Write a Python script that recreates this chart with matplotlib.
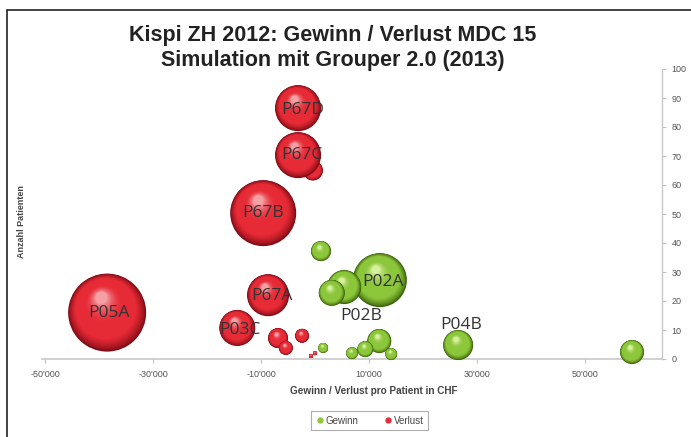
import matplotlib
matplotlib.use("Agg")
import matplotlib.pyplot as plt
import numpy as np
from matplotlib.colors import to_rgb
from matplotlib.ticker import FuncFormatter
from matplotlib.patches import Rectangle
from matplotlib.lines import Line2D

# ---------------- data ----------------
verlust_x = [-38500, -9600, -3150, -400, -3150, -8700, -14400, -6850, -5400, -2400, -750, 0]
verlust_y = [16, 50.3, 86.5, 65, 70.3, 22, 10.7, 7.2, 3.8, 8, 1, 2]
verlust_size = [1521, 1089, 529, 100, 529, 441, 324, 100, 49, 49, 4, 4]
verlust_labels = ["P05A", "P67B", "P67D", "", "P67C", "P67A", "P03C", "", "", "", "", ""]

gewinn_x = [12000, 5400, 3100, 26500, 1100, 11900, 58700, 9300, 6850, 14100, 1500]
gewinn_y = [27.2, 24.8, 22.8, 4.8, 37.2, 6.2, 2.4, 3.4, 2.0, 1.7, 3.8]
gewinn_size = [729, 289, 169, 225, 100, 144, 144, 64, 36, 36, 25]
gewinn_labels = ["P02A", "P02B", "", "P04B", "", "", "", "", "", "", ""]

# label offsets in pixels (dx, dy) relative to bubble centre
label_offsets = {"P05A": (2, 0), "P67B": (0, 0), "P67D": (5, -2), "P67C": (4, 0),
                 "P67A": (4, -1), "P03C": (3, -2), "P02A": (3, -2), "P02B": (17, -29),
                 "P04B": (3, 20)}

x_ticks = [-50000, -30000, -10000, 10000, 30000, 50000]
y_ticks = list(range(0, 101, 10))

title = "Kispi ZH 2012: Gewinn / Verlust MDC 15\nSimulation mit Grouper 2.0 (2013)"
xlabel = "Gewinn / Verlust pro Patient in CHF"
ylabel = "Anzahl Patienten"

# ---------------- figure ----------------
W, H, DPI = 691, 437, 100
fig = plt.figure(figsize=(W / DPI, H / DPI), dpi=DPI)
fig.patch.set_facecolor("white")

# outer frame of the original chart
fig.patches.append(Rectangle((7 / W, -0.05), 1.1, 1 - 10 / H + 0.05, transform=fig.transFigure,
                             fill=False, edgecolor="#222222", linewidth=1.2))

ax_left, ax_right, ax_top, ax_bottom = 41.8, 662, 69, 359
ax = fig.add_axes([ax_left / W, 1 - ax_bottom / H, (ax_right - ax_left) / W, (ax_bottom - ax_top) / H])
ax.set_xlim(-50600, 64250)
ax.set_ylim(0, 100)
ax.set_facecolor("none")

for s in ["left", "top"]:
    ax.spines[s].set_visible(False)
ax.spines["bottom"].set_color("#c8c8c8")
ax.spines["right"].set_color("#c8c8c8")
ax.spines["bottom"].set_linewidth(1.2)
ax.spines["right"].set_linewidth(1.0)

ax.yaxis.tick_right()
ax.set_yticks(y_ticks)
ax.set_xticks(x_ticks)
ax.xaxis.set_major_formatter(FuncFormatter(lambda v, p: f"{int(v):,}".replace(",", "'")))
ax.tick_params(axis="both", colors="#c0c0c0", labelcolor="#555555", labelsize=6.5, length=3, width=0.8)
ax.tick_params(axis="x", pad=5)
ax.tick_params(axis="y", pad=4)
for lab in ax.get_xticklabels() + ax.get_yticklabels():
    lab.set_family("Liberation Sans")

px_to_pt = 72 / DPI


def draw_bubbles(xs, ys, sizes, base, dark, light, z0):
    base = np.array(to_rgb(base))
    dark = np.array(to_rgb(dark))
    light = np.array(to_rgb(light))
    n = 40
    for rank in range(len(xs)):
        r_px = np.sqrt(sizes[rank])
        cx, cy = ax.transData.transform((xs[rank], ys[rank]))
        for k in range(n):
            t = k / (n - 1)
            f = 1 - 0.85 * t
            off = (1 - f) * 0.5 * r_px
            dx, dy = -off * 0.35, off * 0.9
            if t < 0.25:
                col = dark + (base - dark) * (t / 0.25) ** 0.7
            elif t < 0.55:
                col = base
            else:
                col = base + (light - base) * ((t - 0.55) / 0.45) ** 2.2
            px, py = ax.transData.inverted().transform((cx + dx, cy + dy))
            d_pt = 2 * r_px * f * px_to_pt
            ax.scatter([px], [py], s=d_pt ** 2, color=col, edgecolors="none",
                       zorder=z0 + rank * 0.01 + k * 0.0001, clip_on=False)


draw_bubbles(verlust_x, verlust_y, verlust_size, "#e62a36", "#7a0a14", "#f4a0a4", 2)
draw_bubbles(gewinn_x, gewinn_y, gewinn_size, "#8cc63a", "#355c06", "#d6f09c", 3)

# labels
for xs, ys, labs in [(verlust_x, verlust_y, verlust_labels), (gewinn_x, gewinn_y, gewinn_labels)]:
    for x, y, lab in zip(xs, ys, labs):
        if not lab:
            continue
        dx, dy = label_offsets.get(lab, (0, 0))
        ax.annotate(lab, (x, y), xytext=(dx * px_to_pt, dy * px_to_pt), textcoords="offset points",
                    ha="center", va="center", fontsize=12.5, color="#333333",
                    family="Open Sans", zorder=10)

# titles
fig.text(333 / W, 1 - 48 / H, title, ha="center", va="center", fontsize=15.5,
         fontweight="bold", family="Liberation Sans", color="#222222", linespacing=1.25)
fig.text(374 / W, 1 - 391 / H, xlabel, ha="center", va="center", fontsize=7.2,
         fontweight="bold", family="Liberation Sans", color="#444444")
fig.text(22 / W, 1 - 222 / H, ylabel, ha="center", va="center", fontsize=6.5, rotation=90,
         fontweight="bold", family="Liberation Sans", color="#444444")

# legend
handles = [Line2D([], [], marker="o", linestyle="none", markersize=3.5, color="#8cc63a"),
           Line2D([], [], marker="o", linestyle="none", markersize=3.5, color="#e62a36")]
leg = fig.legend(handles, ["Gewinn", "Verlust"], loc="center", bbox_to_anchor=(369.5 / W, 1 - 420.5 / H),
                 ncol=2, frameon=True, fancybox=False, handletextpad=0.05,
                 columnspacing=2.6, borderpad=0.45, handlelength=1.0,
                 prop={"family": "Liberation Sans", "size": 7})
leg.get_frame().set_edgecolor("#999999")
leg.get_frame().set_linewidth(0.8)
for t in leg.get_texts():
    t.set_color("#444444")

fig.savefig("out.png", dpi=DPI)
